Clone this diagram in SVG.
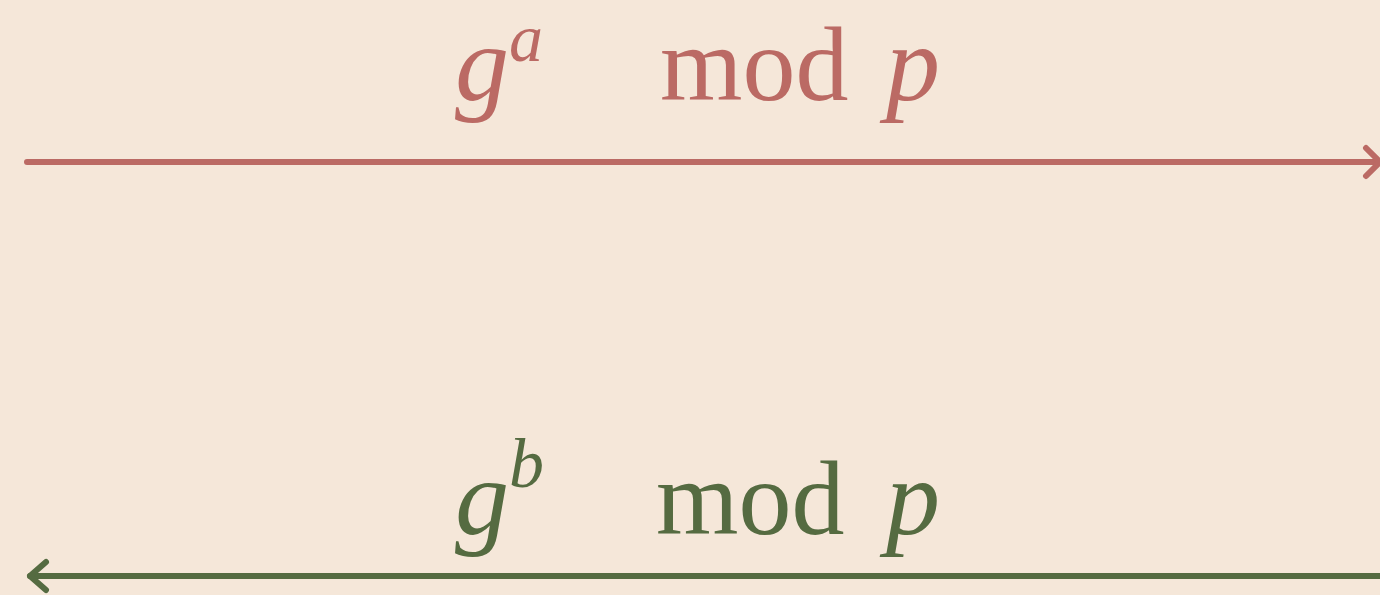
<svg xmlns="http://www.w3.org/2000/svg" width="1380" height="595" viewBox="0 0 1380 595">
<style>
.t{font-family:"Liberation Serif","DejaVu Serif",serif;}
.i{font-style:italic;}
.red{fill:#bb6a64;}
.green{fill:#556b41;}
.lr{stroke:#bb6a64;stroke-width:6;fill:none;stroke-linecap:round;stroke-linejoin:round;}
.lg{stroke:#556b41;stroke-width:6;fill:none;stroke-linecap:round;stroke-linejoin:round;}
</style>
<rect width="1380" height="595" fill="#f5e7d9"/>
<g id="connectors">
<path class="lr" d="M27 162 H1376"/>
<path class="lr" d="M1366 148 L1380 162 L1366 176"/>
<path class="lg" d="M30 576 H1380"/>
<path class="lg" d="M46 562 L30 576 L46 590"/>
</g>
<g id="label-top" class="t red">
<text x="455" y="100" font-size="108" class="i">g</text>
<text x="509" y="61" font-size="68" class="i">a</text>
<text x="660" y="100" font-size="106">mod</text>
<text x="886" y="100" font-size="108" class="i">p</text>
</g>
<g id="label-bottom" class="t green">
<text x="455" y="534" font-size="108" class="i">g</text>
<text x="509" y="487" font-size="70" class="i">b</text>
<text x="656" y="534" font-size="106">mod</text>
<text x="886" y="534" font-size="108" class="i">p</text>
</g>
</svg>
